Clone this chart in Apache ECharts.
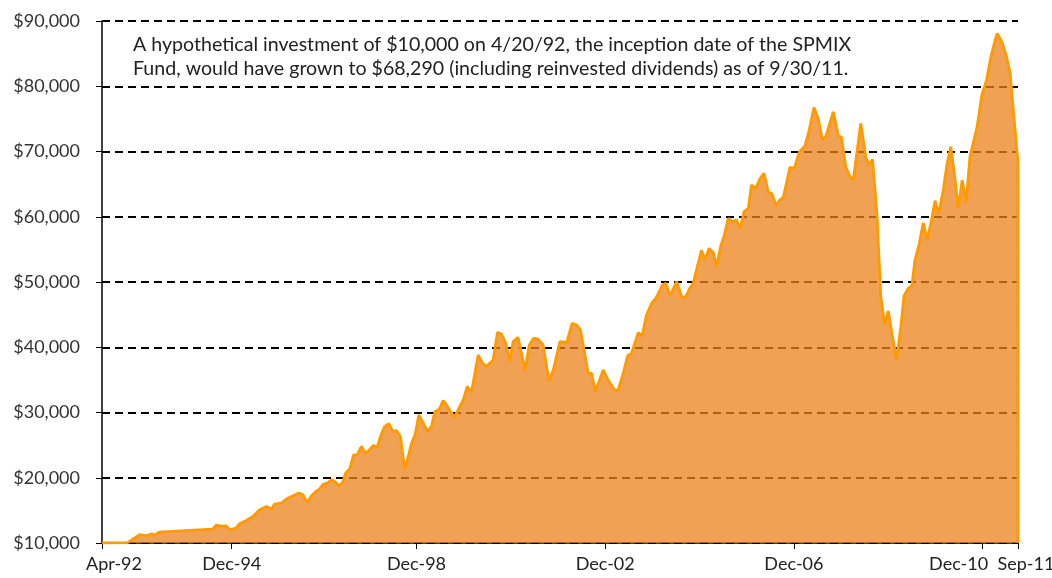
<!DOCTYPE html>
<html>
<head>
<meta charset="utf-8">
<script src="https://cdn.jsdelivr.net/npm/echarts@6/dist/echarts.min.js"></script>
<style>
  html, body { margin: 0; padding: 0; background: #fff; }
  #chart { width: 1052px; height: 578px; }
</style>
</head>
<body>
<div id="chart"></div>
<script>
// months since Apr-92
const months = [
  0, 1.1, 6.5, 9.6, 11.3, 12.6, 13.4, 14.5, 28.2, 29.1, 30.4, 31.5, 32.5, 34.0, 35.0,
  36.7, 38.4, 40.1, 41.8, 43.1, 43.9, 45.6, 46.9, 48.6, 50.1, 51.1, 52.2, 53.3, 54.4,
  55.4, 56.2, 57.3, 58.4, 59.2, 60.2, 61.2, 62.0, 63.0, 64.0, 64.9, 66.0, 67.0, 67.9,
  69.0, 70.0, 70.9, 71.9, 73.0, 74.0, 74.9, 75.9, 77.0, 77.9, 78.7, 79.7, 80.6, 81.7,
  82.8, 83.8, 84.7, 85.7, 86.8, 87.8, 88.9, 89.7, 90.8, 91.9, 92.9, 94.0, 95.7, 96.8,
  97.8, 99.5, 100.6, 101.6, 102.7, 103.7, 104.6, 105.8, 107.6, 108.7, 109.8, 110.9,
  112.2, 113.7, 114.8, 116.5, 118.2, 119.6, 120.7, 121.7, 123.7, 124.5, 125.5, 127.5,
  128.8, 130.5, 131.3, 132.6, 133.7, 134.7, 136.4, 137.4, 138.5, 139.8, 140.9, 142.6,
  143.4, 144.5, 146.2, 147.4, 148.4, 149.5, 150.4, 151.4, 152.5, 153.4, 154.4, 155.5,
  156.3, 157.4, 158.2, 159.3, 160.4, 161.4, 162.3, 163.3, 164.4, 165.2, 166.3, 167.4,
  168.4, 169.5, 170.4, 171.4, 172.4, 173.3, 175.0, 176.1, 177.4, 178.8, 179.9, 181.1,
  182.2, 183.2, 184.1, 186.0, 187.3, 188.1, 189.2, 190.3, 191.1, 193.0, 194.3, 195.1,
  196.0, 197.1, 198.1, 199.1, 200.0, 201.0, 202.1, 203.2, 204.0, 205.1, 206.0, 206.8,
  207.9, 208.9, 209.9, 211.0, 211.9, 212.8, 214.0, 214.9, 215.9, 217.0, 217.8, 218.8,
  219.8, 220.8, 221.6, 222.6, 223.8, 225.0, 226.1, 227.2, 227.7, 228.9, 230.1, 231.0,
  231.8, 233
];
const fundValues = [
  10000, 10000, 10050, 11270, 11120, 11420, 11160, 11680, 12140, 12760, 12540, 12650, 12040, 12240, 12950,
  13460, 14070, 15100, 15600, 15210, 15970, 16120, 16740, 17240, 17660, 17390, 16220, 17240, 17900,
  18300, 19000, 19190, 19690, 19430, 18770, 19280, 20720, 21330, 23520, 23520, 24790, 23780, 24180,
  24940, 24700, 26430, 27850, 28270, 27090, 27240, 26320, 21220, 23260, 25200, 26730, 29640, 28370,
  27090, 27850, 30150, 30410, 31830, 31020, 29900, 29290, 30670, 31940, 33980, 33210, 38830, 37560,
  37040, 38060, 42300, 42000, 40620, 37800, 40870, 41540, 36530, 40360, 41390, 41230,
  40360, 34850, 36530, 40870, 40710, 43680, 43420, 42660, 35920, 36030, 33210, 36530,
  34890, 33360, 33470, 36030, 38680, 39090, 42240, 41740, 44950, 46740, 47510, 49550,
  49810, 47910, 50050, 47760, 47660, 49040, 49810, 52300, 54850, 53370, 55160, 54490,
  52350, 55560, 56940, 59760, 59240, 59500, 58120, 60770, 61290, 64860, 64350, 65880,
  66650, 63680, 63590, 61790, 62560, 62970, 67570, 67410, 69950, 70830, 73280, 76750,
  75070, 71850, 72250, 76080, 72360, 72160, 67570, 66130, 65620, 74300, 69100, 67920,
  68790, 60520, 47760, 43420, 45570, 41890, 38060, 43160, 47860, 49040, 49390, 53370,
  55930, 59080, 56440, 59500, 62460, 60420, 64090, 67920, 70720, 65620, 61290, 65620,
  62150, 69290, 71230, 73770, 78640, 80940, 84500, 87060, 88080, 86800, 84500, 81950,
  76340, 68290
];

const tickMonths = [0, 33, 80, 128, 176, 224, 233];
const tickLabels = ['Apr-92', 'Dec-94', 'Dec-98', 'Dec-02', 'Dec-06', 'Dec-10', 'Sep-11'];

const yMin = 10000;
const yMax = 90000;
const yStep = 10000;

const noteLines = [
  'A hypothetical investment of $10,000 on 4/20/92, the inception date of the SPMIX',
  'Fund, would have grown to $68,290 (including reinvested dividends) as of 9/30/11.'
];

const FONT = 'Lato';

// label nudges so the crowded ones don't collide
const labelStyle = {
  mid: {},
  first: { padding: [0, 0, 0, 24] },
  prev: { padding: [0, 48, 0, 0] },
  last: { padding: [0, 0, 0, 16] },
};

const seriesData = months.map((m, i) => [m, fundValues[i]]);
// outline drops back to the base at the last date
seriesData.push([months[months.length - 1], yMin]);

const chart = echarts.init(document.getElementById('chart'), null, { renderer: 'canvas' });

const option = {
  animation: false,
  backgroundColor: '#fff',
  grid: {
    left: 102,
    right: 34,
    top: 21,
    bottom: 35,
    outerBoundsMode: 'none',
  },
  xAxis: {
    type: 'value',
    min: 0,
    max: 233,
    splitLine: { show: false },
    axisLine: { show: true, lineStyle: { color: '#000', width: 1.5 } },
    axisTick: {
      show: true,
      customValues: tickMonths,
      length: 6,
      lineStyle: { color: '#000', width: 1 },
    },
    axisLabel: {
      customValues: tickMonths,
      margin: 12,
      fontFamily: FONT,
      fontSize: 18,
      color: '#222',
      formatter: (v) => {
        const i = tickMonths.indexOf(v);
        const text = tickLabels[i];
        if (i === 0) return '{first|' + text + '}';
        if (i === tickMonths.length - 2) return '{prev|' + text + '}';
        if (i === tickMonths.length - 1) return '{last|' + text + '}';
        return '{mid|' + text + '}';
      },
      rich: labelStyle,
    },
  },
  yAxis: {
    type: 'value',
    min: yMin,
    max: yMax,
    interval: yStep,
    axisLine: { show: true, lineStyle: { color: '#000', width: 1.5 } },
    axisTick: { show: true, length: 6, lineStyle: { color: '#000', width: 1 } },
    axisLabel: {
      margin: 22,
      fontFamily: FONT,
      fontSize: 18,
      color: '#333',
      formatter: (v) => '$' + v.toLocaleString('en-US'),
    },
    splitLine: {
      show: true,
      lineStyle: { color: '#000', width: 2, type: [8, 5] },
    },
  },
  series: [{
    type: 'line',
    data: seriesData,
    symbol: 'none',
    lineStyle: { color: '#FF9A00', width: 2.8 },
    areaStyle: { color: 'rgb(235,130,25)', opacity: 0.75, origin: 'start' },
  }],
  graphic: [{
    type: 'text',
    left: 133,
    top: 33,
    style: {
      text: noteLines.join('\n'),
      fontFamily: FONT,
      fontSize: 19.6,
      lineHeight: 24,
      fill: '#222',
    },
  }],
};

chart.setOption(option);
</script>
</body>
</html>
